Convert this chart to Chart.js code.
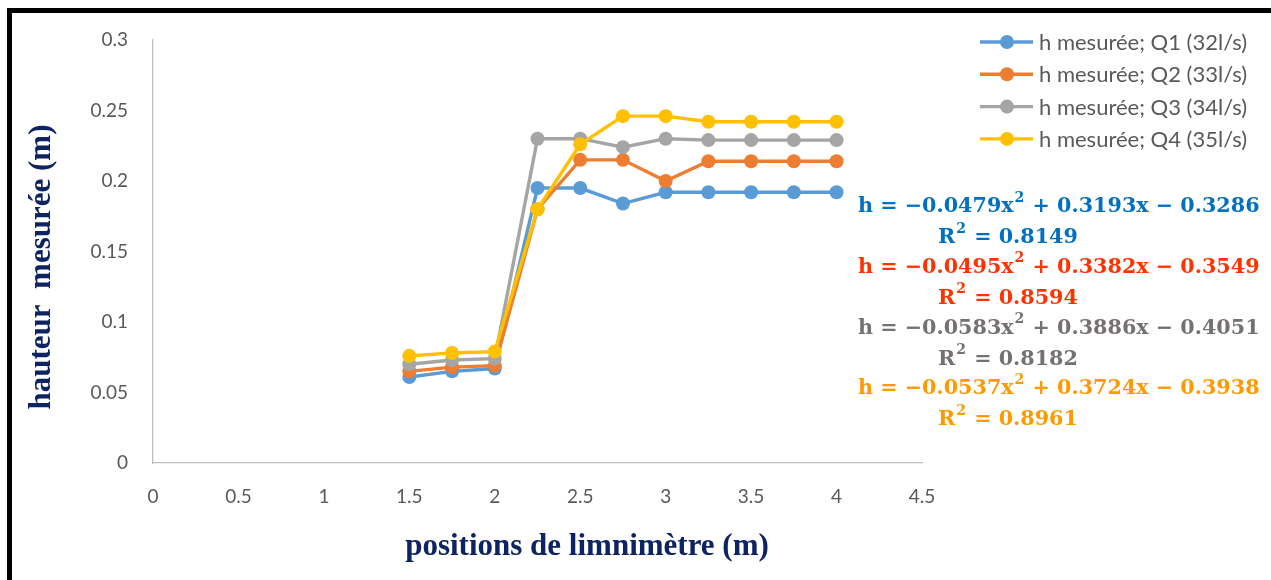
<!DOCTYPE html>
<html>
<head>
<meta charset="utf-8">
<script src="https://cdn.jsdelivr.net/npm/chart.js@4"></script>
<style>
  html, body { margin: 0; padding: 0; background: #ffffff; }
  #wrap { position: relative; width: 1271px; height: 580px; overflow: hidden; }
  #frame { position: absolute; left: 7px; top: 8px; right: -10px; bottom: -10px;
           border-top: 5px solid #000; border-left: 5px solid #000; }
  canvas { position: absolute; left: 0; top: 0; }
</style>
</head>
<body>
<div id="wrap">
  <div id="frame"></div>
  <canvas id="c" width="1271" height="580"></canvas>
</div>
<script>
// Gauge positions along the channel (m)
const positions = [1.5, 1.75, 2, 2.25, 2.5, 2.75, 3, 3.25, 3.5, 3.75, 4];

// Measured water height (m) for each flow rate
const hQ1 = [0.061, 0.065, 0.067, 0.195, 0.195, 0.184, 0.192, 0.192, 0.192, 0.192, 0.192];
const hQ2 = [0.065, 0.068, 0.069, 0.180, 0.215, 0.215, 0.200, 0.214, 0.214, 0.214, 0.214];
const hQ3 = [0.070, 0.073, 0.074, 0.230, 0.230, 0.224, 0.230, 0.229, 0.229, 0.229, 0.229];
const hQ4 = [0.076, 0.078, 0.079, 0.180, 0.226, 0.246, 0.246, 0.242, 0.242, 0.242, 0.242];

const seriesLabels = ['h mesurée; Q1 (32l/s)', 'h mesurée; Q2 (33l/s)', 'h mesurée; Q3 (34l/s)', 'h mesurée; Q4 (35l/s)'];
const seriesColors = ['#5B9BD5', '#ED7D31', '#A5A5A5', '#FFC000'];

// Polynomial trend equations and their R² values ('^2' marks a superscript)
const equations = ['h = −0.0479x^2 + 0.3193x − 0.3286', 'h = −0.0495x^2 + 0.3382x − 0.3549',
                   'h = −0.0583x^2 + 0.3886x − 0.4051', 'h = −0.0537x^2 + 0.3724x − 0.3938'];
const rSquared = ['R^2 = 0.8149', 'R^2 = 0.8594', 'R^2 = 0.8182', 'R^2 = 0.8961'];
const equationColors = ['#0070C0', '#FF3300', '#767171', '#FF9900'];

const xTitle = 'positions de limnimètre (m)';
const yTitle = 'hauteur  mesurée (m)';
const titleColor = '#0E2462';
const tickColor = '#595959';

const allSeries = [hQ1, hQ2, hQ3, hQ4];

const datasets = allSeries.map((vals, i) => ({
  label: seriesLabels[i],
  data: positions.map((x, k) => ({ x: x, y: vals[k] })),
  borderColor: seriesColors[i],
  backgroundColor: seriesColors[i],
  borderWidth: 3.4,
  pointRadius: 7,
  pointHoverRadius: 7,
  pointBorderWidth: 0,
  showLine: true,
  tension: 0,
  order: allSeries.length - i
}));

// Writes a formula, raising every part that follows '^'
function drawFormula(ctx, text, x, y) {
  const parts = text.split(/\^(\d)/);
  let cx = x;
  parts.forEach((p, k) => {
    if (k % 2 === 1) {
      ctx.font = 'bold 14px "DejaVu Serif"';
      ctx.fillText(p, cx + 1, y - 9);
      cx += ctx.measureText(p).width + 2;
    } else {
      ctx.font = 'bold 20.7px "DejaVu Serif"';
      ctx.fillText(p, cx, y);
      cx += ctx.measureText(p).width;
    }
  });
}

// Draws the legend, the trend equations and the axis titles
const annotations = {
  id: 'annotations',
  afterDraw(chart) {
    const ctx = chart.ctx;
    ctx.save();

    // legend
    ctx.font = '22px Lato';
    ctx.textBaseline = 'middle';
    ctx.textAlign = 'left';
    seriesLabels.forEach((lab, i) => {
      const y = 42 + i * 32.3;
      ctx.strokeStyle = seriesColors[i];
      ctx.lineWidth = 3.4;
      ctx.beginPath();
      ctx.moveTo(980, y);
      ctx.lineTo(1033, y);
      ctx.stroke();
      ctx.fillStyle = seriesColors[i];
      ctx.beginPath();
      ctx.arc(1007, y, 7, 0, Math.PI * 2);
      ctx.fill();
      ctx.fillStyle = tickColor;
      ctx.fillText(lab, 1039, y + 1);
    });

    // trend equations
    equations.forEach((eq, i) => {
      const y = 207 + i * 60.7;
      ctx.fillStyle = equationColors[i];
      drawFormula(ctx, eq, 858, y);
      drawFormula(ctx, rSquared[i], 938, y + 31);
    });

    // axis titles
    ctx.fillStyle = titleColor;
    ctx.font = 'bold 31px "Liberation Serif"';
    ctx.textAlign = 'center';
    ctx.fillText(xTitle, 587, 547);
    ctx.translate(42, 267);
    ctx.rotate(-Math.PI / 2);
    ctx.fillText(yTitle, 0, 0);
    ctx.restore();
  }
};

new Chart(document.getElementById('c'), {
  type: 'scatter',
  data: { datasets: datasets },
  options: {
    responsive: false,
    animation: false,
    layout: { padding: { left: 0, top: 40, right: 349, bottom: 0 } },
    plugins: { legend: { display: false }, tooltip: { enabled: false } },
    scales: {
      x: {
        type: 'linear',
        min: 0, max: 4.5,
        ticks: { stepSize: 0.5, color: tickColor, padding: 22,
                 font: { family: '"Liberation Sans Narrow", Lato', size: 19 },
                 callback: v => String(+v.toFixed(2)) },
        grid: { display: false, drawTicks: false },
        border: { display: true, color: '#BFBFBF', width: 1.3 },
        afterFit: s => { s.height = 117; }
      },
      y: {
        type: 'linear',
        min: 0, max: 0.3,
        ticks: { stepSize: 0.05, color: tickColor, padding: 25,
                 font: { family: 'Lato', size: 19 },
                 callback: v => String(+v.toFixed(2)) },
        grid: { display: false, drawTicks: false },
        border: { display: true, color: '#BFBFBF', width: 1.3 },
        afterFit: s => { s.width = 153; }
      }
    }
  },
  plugins: [annotations]
});
</script>
</body>
</html>
